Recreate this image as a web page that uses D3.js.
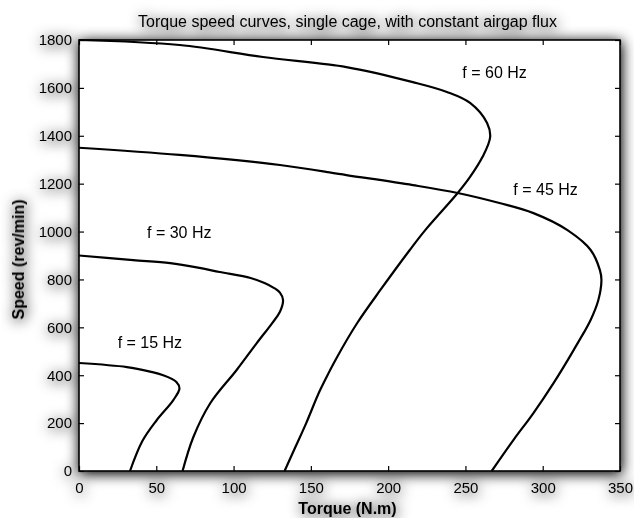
<!DOCTYPE html>
<html>
<head>
<meta charset="utf-8">
<script src="https://cdn.jsdelivr.net/npm/d3@7"></script>
<style>
  body { margin: 0; background: #fff; }
  svg { display: block; font-family: Arial, "Liberation Sans", sans-serif; }
  .tick text { font-size: 15px; fill: #000; }
</style>
</head>
<body>
<svg id="svg-torque" width="634" height="518"></svg>
<script>

// curves: [torque N.m, speed rev/min]
const curve60 = [[0,1800],[65,1779],[119,1729],[173,1687],[216,1624],[238,1583],[253,1537],[264,1453],[266,1395],
  [261,1311],[253,1228],[245,1161],[224,1006],[214,923],[195,756],[180,618],[167,476],[156,338],[147,200],[140,100],[133,0]];
const curve45 = [[0,1350],[65,1320],[130,1278],[173,1236],[216,1194],[245,1161],[272,1119],[294,1077],[316,1006],
  [331,923],[337,839],[338,798],[336,714],[331,631],[320,505],[307,367],[294,242],[281,129],[267,0]];
const curve30 = [[0,900],[35,881],[59,868],[78,848],[91,831],[111,806],[120,785],[126,765],[130,745],[132,714],
  [130,665],[125,618],[115,534],[102,422],[85,284],[74,142],[67,0]];
const curve15 = [[0,451],[31,434],[46,415],[54,401],[63,372],[65,345],[61,296],[50,210],[41,125],[33,0]];

const curveNames = ['f = 60 Hz', 'f = 45 Hz', 'f = 30 Hz', 'f = 15 Hz'];
// where each name sits, [torque, speed] of the text start
const nameAnchors = [[248,1641],[281,1153],[44,973],[25,514]];

const xTicks = [0, 50, 100, 150, 200, 250, 300, 350];
const yTicks = [0, 200, 400, 600, 800, 1000, 1200, 1400, 1600, 1800];

const titleText = 'Torque speed curves, single cage, with constant airgap flux';
const xLabel = 'Torque (N.m)';
const yLabel = 'Speed (rev/min)';
const captionText = 'Figure (3): Torque speed characteristics';

document.addEventListener('DOMContentLoaded', function () {
  draw();
});

function draw() {

  let svg = d3.select('#svg-torque');

  let left = 79, right = 620, top = 40, bottom = 471;

  let x = d3.scaleLinear().domain([0, 350]).range([left, right]);
  let y = d3.scaleLinear().domain([0, 1800]).range([bottom, top]);

  // soft grey shadow like the pasted picture
  let defs = svg.append('defs');
  let filt = defs.append('filter')
    .attr('id', 'shade')
    .attr('filterUnits', 'userSpaceOnUse')
    .attr('x', 0).attr('y', 0).attr('width', 634).attr('height', 518);
  filt.append('feGaussianBlur').attr('in', 'SourceAlpha').attr('stdDeviation', 7);
  filt.append('feOffset').attr('dx', 1).attr('dy', 2);
  filt.append('feComponentTransfer').append('feFuncA').attr('type', 'linear').attr('slope', 1.1);
  let merge = filt.append('feMerge');
  merge.append('feMergeNode');
  merge.append('feMergeNode').attr('in', 'SourceGraphic');

  // caption of the page, mostly hidden below
  svg.append('text')
    .text(captionText)
    .attr('x', 213)
    .attr('y', 536)
    .style('font-family', '"Times New Roman", "Liberation Serif", serif')
    .style('font-weight', 'bold')
    .style('font-size', '25px')
    .style('fill', '#333');

  let g = svg.append('g').attr('filter', 'url(#shade)');

  g.append('rect')
    .attr('x', left).attr('y', top)
    .attr('width', right - left).attr('height', bottom - top)
    .style('fill', '#fff');

  // axes, matlab style ticks inside
  let fmt = d3.format('d');
  g.append('g')
    .attr('transform', `translate(0,${bottom})`)
    .call(d3.axisBottom(x).tickValues(xTicks).tickFormat(fmt).tickSizeInner(-5).tickSizeOuter(0).tickPadding(11));
  g.append('g')
    .attr('transform', `translate(${left},0)`)
    .call(d3.axisLeft(y).tickValues(yTicks).tickFormat(fmt).tickSizeInner(-5).tickSizeOuter(0).tickPadding(7));
  g.append('g')
    .attr('transform', `translate(0,${top})`)
    .call(d3.axisTop(x).tickValues(xTicks).tickSizeInner(-5).tickSizeOuter(0).tickFormat(''));
  g.append('g')
    .attr('transform', `translate(${right},0)`)
    .call(d3.axisRight(y).tickValues(yTicks).tickSizeInner(-5).tickSizeOuter(0).tickFormat(''));

  g.selectAll('.domain').remove();
  g.selectAll('.tick line').style('stroke', '#000').style('stroke-width', 1.2);
  g.selectAll('.tick text').style('font-family', 'Arial, "Liberation Sans", sans-serif');

  g.append('rect')
    .attr('x', left).attr('y', top)
    .attr('width', right - left).attr('height', bottom - top)
    .style('fill', 'none')
    .style('stroke', '#000')
    .style('stroke-width', 1.6);

  g.append('text')
    .text(titleText)
    .attr('x', (left + right) / 2 - 2)
    .attr('y', 27)
    .attr('text-anchor', 'middle')
    .style('font-size', '16px');

  g.append('text')
    .text(xLabel)
    .attr('x', (left + right) / 2 - 2)
    .attr('y', 514)
    .attr('text-anchor', 'middle')
    .style('font-weight', 'bold')
    .style('font-size', '16px');

  g.append('text')
    .text(yLabel)
    .attr('transform', `translate(24,${(top + bottom) / 2 + 4}) rotate(-90)`)
    .attr('text-anchor', 'middle')
    .style('font-weight', 'bold')
    .style('font-size', '16px');

  // the four curves
  let line = d3.line()
    .x(d => x(d[0]))
    .y(d => y(d[1]))
    .curve(d3.curveCatmullRom.alpha(0.5));

  let curves = [curve60, curve45, curve30, curve15];

  svg.selectAll('.curve')
    .data(curves)
    .join('path')
    .classed('curve', true)
    .attr('d', line)
    .style('fill', 'none')
    .style('stroke', '#000')
    .style('stroke-width', 2.2);

  svg.selectAll('.curve-name')
    .data(curveNames)
    .join('text')
    .classed('curve-name', true)
    .text(d => d)
    .attr('x', (d, i) => x(nameAnchors[i][0]))
    .attr('y', (d, i) => y(nameAnchors[i][1]))
    .style('font-size', '16px');
}
</script>
</body>
</html>
